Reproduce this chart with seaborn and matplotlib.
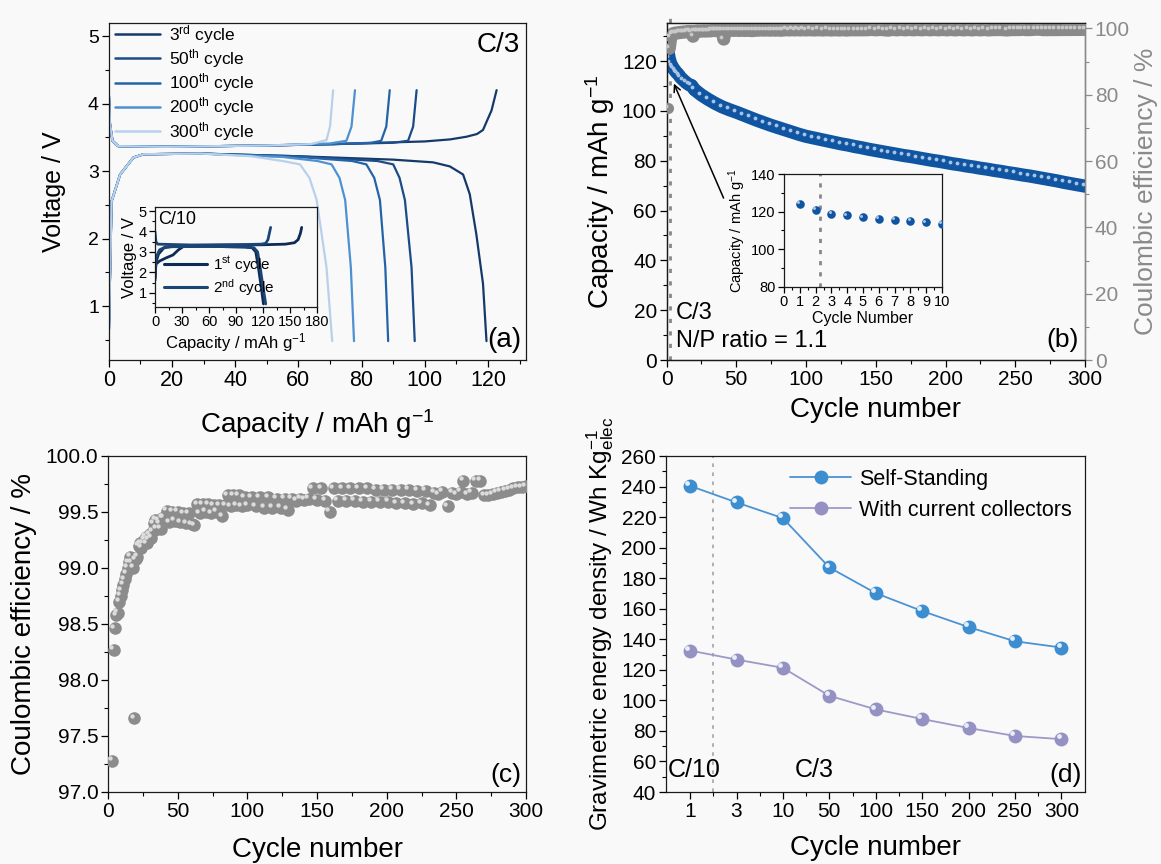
import numpy as np
import pandas as pd
import seaborn as sns
import matplotlib.pyplot as plt
from matplotlib.lines import Line2D
from matplotlib.ticker import MultipleLocator
from matplotlib.transforms import offset_copy

# -------- DATA --------#

# (a) C/3 voltage profiles, capacity in mAh/g and voltage in V
cycle_names = ['3rd', '50th', '100th', '200th', '300th']
cycle_labels = [r'3$^{\mathrm{rd}}$ cycle', r'50$^{\mathrm{th}}$ cycle', r'100$^{\mathrm{th}}$ cycle',
                r'200$^{\mathrm{th}}$ cycle', r'300$^{\mathrm{th}}$ cycle']
cycle_colors = ['#153a6a', '#1b4c86', '#2463a8', '#4d91d1', '#b9d0ec']

charge_q = {
    '3rd': [0, 0.4, 1.2, 3, 18, 50, 71, 100, 108, 113.2, 116.5, 118.4, 121.1, 122.7],
    '50th': [0, 0.4, 1.2, 3, 18, 50, 71, 90, 94.7, 96.3, 97.4],
    '100th': [0, 0.4, 1.2, 3, 18, 50, 71, 83, 86.2, 87.8, 88.9],
    '200th': [0, 0.4, 1.2, 3, 18, 50, 70, 75.2, 76.8, 77.9],
    '300th': [0, 0.4, 1.2, 3, 18, 50, 64, 68.9, 70.0, 71.0],
}
charge_v = {
    '3rd': [4.2, 3.7, 3.45, 3.37, 3.36, 3.38, 3.40, 3.44, 3.47, 3.51, 3.55, 3.61, 3.9, 4.2],
    '50th': [4.2, 3.7, 3.45, 3.37, 3.36, 3.38, 3.40, 3.42, 3.45, 3.66, 4.2],
    '100th': [4.2, 3.7, 3.45, 3.37, 3.36, 3.38, 3.40, 3.42, 3.45, 3.66, 4.2],
    '200th': [4.2, 3.7, 3.45, 3.37, 3.36, 3.38, 3.41, 3.45, 3.66, 4.2],
    '300th': [4.2, 3.7, 3.45, 3.37, 3.36, 3.38, 3.40, 3.46, 3.66, 4.2],
}
discharge_q = {
    '3rd': [0, 0.9, 3.6, 7.8, 11, 29, 60, 90, 102.6, 107.9, 112.1, 114.2, 116.3, 118.4, 119.5],
    '50th': [0, 0.9, 3.6, 7.8, 11, 29, 60, 85, 90, 92, 93.7, 95.8, 96.8],
    '100th': [0, 0.9, 3.6, 7.8, 11, 29, 60, 77, 81.5, 84, 85.8, 87.5, 88.4],
    '200th': [0, 0.9, 3.6, 7.8, 11, 29, 55, 66, 70.5, 73, 74.8, 76.6, 77.6],
    '300th': [0, 0.9, 3.6, 7.8, 11, 29, 45, 55, 60.5, 63.5, 65.8, 68.9, 70.7],
}
discharge_v = {
    '3rd': [0.5, 2.55, 2.95, 3.2, 3.25, 3.26, 3.22, 3.17, 3.13, 3.07, 2.95, 2.66, 2.06, 1.33, 0.48],
    '50th': [0.5, 2.55, 2.95, 3.2, 3.25, 3.26, 3.22, 3.15, 3.10, 2.9, 2.57, 1.57, 0.48],
    '100th': [0.5, 2.55, 2.95, 3.2, 3.25, 3.26, 3.21, 3.15, 3.10, 2.9, 2.57, 1.57, 0.48],
    '200th': [0.5, 2.55, 2.95, 3.2, 3.25, 3.26, 3.21, 3.15, 3.10, 2.9, 2.57, 1.57, 0.48],
    '300th': [0.5, 2.55, 2.95, 3.2, 3.25, 3.26, 3.22, 3.15, 3.10, 2.9, 2.57, 1.57, 0.48],
}

# (a) inset, C/10 formation cycles
form_labels = [r'1$^{\mathrm{st}}$ cycle', r'2$^{\mathrm{nd}}$ cycle']
form_colors = ['#0d2b55', '#1c4577']
form_charge_q = [[0, 1, 5, 12, 20, 26, 32, 60, 120, 145, 155, 159, 161.5, 163],
                 [0, 1, 3, 40, 100, 118, 123, 125.5, 127, 128.5]]
form_charge_v = [[1.7, 2.4, 2.55, 2.7, 2.85, 3.1, 3.28, 3.32, 3.35, 3.38, 3.45, 3.6, 3.9, 4.2],
                 [4.0, 3.5, 3.38, 3.34, 3.36, 3.38, 3.42, 3.6, 3.9, 4.2]]
form_dis_q = [[0, 1, 4, 10, 20, 60, 100, 108, 112, 115, 118, 120.5],
              [0, 1, 5, 12, 60, 100, 110, 114, 117, 120, 123]]
form_dis_v = [[1.6, 2.5, 2.9, 3.2, 3.27, 3.27, 3.24, 3.2, 3.0, 2.2, 1.3, 0.45],
              [2.0, 2.7, 3.1, 3.25, 3.27, 3.24, 3.2, 3.0, 2.2, 1.3, 0.45]]

# (b) discharge capacity per cycle (mAh/g)
cap_points = [(1, 124.0), (2, 121.0), (3, 119.0), (4, 118.0), (5, 117.0), (6, 116.3), (7, 115.5),
              (8, 115.0), (9, 114.3), (10, 113.5), (12, 112.4), (14, 111.4), (16, 110.6), (18, 110.2),
              (20, 108.6), (25, 106.4), (30, 104.6), (35, 103.0), (40, 101.6), (45, 100.5), (50, 99.5),
              (55, 98.4), (60, 97.3), (65, 96.2), (70, 95.2), (75, 94.2), (80, 93.3), (85, 92.4),
              (90, 91.5), (95, 90.6), (100, 89.8), (105, 89.2), (110, 88.6), (115, 88.0), (120, 87.4),
              (125, 86.8), (130, 86.3), (135, 85.7), (140, 85.2), (145, 84.6), (150, 84.1), (155, 83.6),
              (160, 83.1), (165, 82.6), (170, 82.1), (175, 81.7), (180, 81.2), (185, 80.7), (190, 80.2),
              (195, 79.8), (200, 79.3), (205, 78.8), (210, 78.4), (215, 77.9), (220, 77.5), (225, 77.0),
              (230, 76.6), (235, 76.1), (240, 75.7), (245, 75.2), (250, 74.8), (255, 74.3), (260, 73.9),
              (265, 73.4), (270, 72.9), (275, 72.4), (280, 71.9), (285, 71.3), (290, 70.8), (295, 70.3),
              (300, 69.8)]

# (b)/(c) coulombic efficiency per cycle (%)
ce_points = [(1, 76.0), (2, 94.0), (3, 97.28), (4, 98.27), (5, 98.46), (6, 98.58), (7, 98.60),
             (8, 98.70), (9, 98.75), (10, 98.80), (11, 98.85), (12, 98.90), (13, 98.95), (14, 99.00),
             (15, 99.05), (16, 99.10), (17, 99.05), (18, 99.00), (19, 97.66), (20, 99.08), (21, 99.10),
             (22, 99.20), (23, 99.22), (24, 99.18), (25, 99.22), (26, 99.25), (27, 99.28), (28, 99.22),
             (29, 99.25), (30, 99.30), (31, 99.27), (32, 99.33), (33, 99.40), (34, 99.43), (35, 99.35),
             (36, 99.42), (37, 99.40), (38, 99.35), (39, 99.45), (40, 99.45), (41, 96.8), (42, 99.51),
             (44, 99.41), (46, 99.50), (48, 99.42), (50, 99.50), (52, 99.41), (54, 99.49), (56, 99.40),
             (58, 99.49), (60, 99.39), (62, 99.38), (64, 99.57), (66, 99.49), (68, 99.57), (70, 99.50),
             (72, 99.57), (74, 99.49), (76, 99.56), (78, 99.50), (80, 99.56), (82, 99.46), (84, 99.56),
             (86, 99.65), (88, 99.55), (90, 99.65), (92, 99.56), (94, 99.65), (96, 99.55), (98, 99.63),
             (100, 99.56), (103, 99.63), (106, 99.55), (109, 99.63), (112, 99.54), (115, 99.63),
             (118, 99.54), (121, 99.62), (124, 99.54), (127, 99.62), (129, 99.52), (132, 99.62),
             (135, 99.60), (138, 99.62), (141, 99.61), (144, 99.62), (147, 99.71), (150, 99.61),
             (153, 99.71), (156, 99.60), (159, 99.50), (162, 99.71), (165, 99.60), (168, 99.71),
             (171, 99.60), (174, 99.71), (177, 99.60), (180, 99.71), (183, 99.59), (186, 99.71),
             (189, 99.59), (192, 99.70), (195, 99.59), (198, 99.70), (201, 99.59), (204, 99.70),
             (207, 99.58), (210, 99.70), (213, 99.58), (216, 99.70), (219, 99.57), (222, 99.69),
             (225, 99.58), (228, 99.69), (231, 99.56), (234, 99.67), (237, 99.66), (240, 99.68),
             (244, 99.55), (247, 99.67), (250, 99.66), (253, 99.68), (255, 99.78), (258, 99.66),
             (261, 99.67), (264, 99.78), (267, 99.78), (270, 99.65), (273, 99.65), (276, 99.66),
             (279, 99.67), (282, 99.68), (285, 99.69), (288, 99.70), (291, 99.71), (294, 99.72),
             (297, 99.72), (300, 99.73)]

rate_switch = 2.3  # C/10 -> C/3

# (d) gravimetric energy density (Wh/kg)
d_cycles = ['1', '3', '10', '50', '100', '150', '200', '250', '300']
self_standing = [240.4, 229.6, 219.3, 187.0, 170.2, 158.5, 148.0, 138.7, 134.6]
with_cc = [132.6, 126.7, 121.3, 103.0, 94.1, 87.8, 81.9, 76.7, 74.6]

cap_df = pd.DataFrame(cap_points, columns=['cycle', 'capacity'])
ce_df = pd.DataFrame(ce_points, columns=['cycle', 'ce'])
d_pos = np.arange(len(d_cycles))

# -------- STYLE --------#

sns.set_style('ticks')
plt.rcParams['font.family'] = ['Liberation Sans', 'DejaVu Sans']
plt.rcParams['mathtext.fontset'] = 'custom'
plt.rcParams['mathtext.rm'] = 'Liberation Sans'
plt.rcParams['mathtext.it'] = 'Liberation Sans:italic'
plt.rcParams['mathtext.default'] = 'regular'
plt.rcParams['axes.linewidth'] = 0.9
plt.rcParams['axes.edgecolor'] = '#1a1a1a'
plt.rcParams['text.color'] = 'black'
plt.rcParams['axes.labelcolor'] = 'black'
plt.rcParams['xtick.color'] = 'black'
plt.rcParams['ytick.color'] = 'black'

BG = '#f9f9f9'
W, H = 1161, 864
fig = plt.figure(figsize=(W / 100, H / 100), dpi=100, facecolor=BG)


def box(l, t, r, b):
    ax = fig.add_axes([l / W, 1 - b / H, (r - l) / W, (b - t) / H])
    ax.set_facecolor(BG)
    return ax


def ticks(ax, xs=15, ys=15, major=5, minor=3):
    ax.tick_params(which='major', length=major, width=0.9, direction='out', top=False, right=False)
    ax.tick_params(which='minor', length=minor, width=0.8, direction='out', top=False, right=False)
    ax.tick_params(axis='x', labelsize=xs, pad=2)
    ax.tick_params(axis='y', labelsize=ys, pad=2)


def spheres(ax, x, y, color, shine, s, z=3):
    sns.scatterplot(x=x, y=y, ax=ax, color=color, s=s, linewidth=0, zorder=z, legend=False)
    d = np.sqrt(s)
    glint = offset_copy(ax.transData, fig=fig, x=-0.2 * d, y=0.2 * d, units='points')
    sns.scatterplot(x=x, y=y, ax=ax, color=shine, s=s * 0.12, linewidth=0, zorder=z + 0.1,
                    legend=False, transform=glint)


# -------- (a) --------#
ax_a = box(108.7, 22.7, 526, 360)
handles = []
for name, color in zip(cycle_names, cycle_colors):
    sns.lineplot(x=charge_q[name], y=charge_v[name], ax=ax_a, sort=False, estimator=None,
                 color=color, lw=1.6)
    sns.lineplot(x=discharge_q[name], y=discharge_v[name], ax=ax_a, sort=False, estimator=None,
                 color=color, lw=1.6)
    handles.append(Line2D([], [], color=color, lw=1.8))
ax_a.set_xlim(0, 132)
ax_a.set_ylim(0.2, 5.2)
ax_a.xaxis.set_major_locator(MultipleLocator(20))
ax_a.xaxis.set_minor_locator(MultipleLocator(10))
ax_a.yaxis.set_major_locator(MultipleLocator(1))
ax_a.yaxis.set_minor_locator(MultipleLocator(0.5))
ticks(ax_a, xs=15.5, ys=14)
ax_a.set_xlabel(r'Capacity / mAh g$^{-1}$', fontsize=20, labelpad=12)
ax_a.set_ylabel('Voltage / V', fontsize=18, labelpad=16)
ax_a.legend(handles, cycle_labels, loc='upper left', bbox_to_anchor=(0.0, 1.018), frameon=False,
            fontsize=12.5, handlelength=2.6, labelspacing=0.08, borderaxespad=0.15,
            handletextpad=0.5, borderpad=0.2)
ax_a.text(0.985, 0.935, 'C/3', transform=ax_a.transAxes, ha='right', va='center', fontsize=20)
ax_a.text(0.99, 0.06, '(a)', transform=ax_a.transAxes, ha='right', va='center', fontsize=20)

ax_ai = box(155, 207, 317, 307)
form_handles = []
for i, color in enumerate(form_colors):
    sns.lineplot(x=form_charge_q[i], y=form_charge_v[i], ax=ax_ai, sort=False, estimator=None,
                 color=color, lw=2.0)
    sns.lineplot(x=form_dis_q[i], y=form_dis_v[i], ax=ax_ai, sort=False, estimator=None,
                 color=color, lw=2.0)
    form_handles.append(Line2D([], [], color=color, lw=2.2))
ax_ai.set_xlim(0, 180)
ax_ai.set_ylim(0.3, 5.2)
ax_ai.xaxis.set_major_locator(MultipleLocator(30))
ax_ai.xaxis.set_minor_locator(MultipleLocator(15))
ax_ai.yaxis.set_major_locator(MultipleLocator(1))
ax_ai.yaxis.set_minor_locator(MultipleLocator(0.5))
ticks(ax_ai, xs=10.5, ys=10.5, major=4, minor=2)
ax_ai.set_xlabel(r'Capacity / mAh g$^{-1}$', fontsize=12, labelpad=1)
ax_ai.set_ylabel('Voltage / V', fontsize=12, labelpad=1)
ax_ai.legend(form_handles, form_labels, loc='lower left', frameon=False, fontsize=11,
             handlelength=2.8, labelspacing=0.15, borderaxespad=0.2, handletextpad=0.4)
ax_ai.text(0.02, 0.87, 'C/10', transform=ax_ai.transAxes, ha='left', va='center', fontsize=13)

# -------- (b) --------#
ax_b = box(666.5, 22.5, 1085, 360)
sns.lineplot(data=cap_df, x='cycle', y='capacity', ax=ax_b, color='#0f55a2', lw=9.5,
             solid_capstyle='round', zorder=2)
spheres(ax_b, cap_df['cycle'], cap_df['capacity'], '#0f55a2', '#a9c3e0', 64)
ax_b.set_xlim(0, 300)
ax_b.set_ylim(0, 135.5)
ax_b.xaxis.set_major_locator(MultipleLocator(50))
ax_b.xaxis.set_minor_locator(MultipleLocator(25))
ax_b.yaxis.set_major_locator(MultipleLocator(20))
ax_b.yaxis.set_minor_locator(MultipleLocator(10))
ticks(ax_b, xs=15, ys=15)
ax_b.set_xlabel('Cycle number', fontsize=20, labelpad=6)
ax_b.set_ylabel(r'Capacity / mAh g$^{-1}$', fontsize=20, labelpad=3)
ax_b.plot([rate_switch, rate_switch], [0, 140.5], ls=(0, (1.5, 3)), color='#888888', lw=2,
          clip_on=False, zorder=1)
ax_b.annotate('', xy=(4.5, 112), xytext=(41.7, 64),
              arrowprops=dict(arrowstyle='->', color='black', lw=1.1, mutation_scale=12))
ax_b.text(0.023, 0.14, 'C/3', transform=ax_b.transAxes, ha='left', va='center', fontsize=17)
ax_b.text(0.023, 0.055, 'N/P ratio = 1.1', transform=ax_b.transAxes, ha='left', va='center',
          fontsize=17)
ax_b.text(0.985, 0.06, '(b)', transform=ax_b.transAxes, ha='right', va='center', fontsize=19)

ax_b2 = ax_b.twinx()
ce_run = ce_df[ce_df['cycle'] >= 2]
sns.lineplot(data=ce_run, x='cycle', y='ce', ax=ax_b2, color='#8a8a8a', lw=9.5,
             solid_capstyle='round', zorder=2)
spheres(ax_b2, ce_df['cycle'], ce_df['ce'], '#8a8a8a', '#c8c8c8', 64)
ax_b2.set_ylim(0, 101.8)
ax_b2.yaxis.set_major_locator(MultipleLocator(20))
ax_b2.yaxis.set_minor_locator(MultipleLocator(10))
ax_b2.tick_params(axis='y', which='major', length=5, width=0.9, colors='#8a8a8a', labelsize=15,
                  pad=2)
ax_b2.tick_params(axis='y', which='minor', length=3, width=0.8, colors='#8a8a8a')
ax_b2.spines['right'].set_color('#8a8a8a')
ax_b2.set_ylabel('Coulombic efficiency / %', fontsize=19, color='#8a8a8a', labelpad=3)

ax_bi = box(784, 174, 942, 287)
ax_bi.set_zorder(5)
first10 = cap_df[cap_df['cycle'] <= 10]
spheres(ax_bi, first10['cycle'], first10['capacity'], '#0f55a2', '#a9c3e0', 38)
ax_bi.axvline(rate_switch, ls=(0, (1.5, 2.5)), color='#888888', lw=2, zorder=1)
ax_bi.set_xlim(0, 10)
ax_bi.set_ylim(80, 140)
ax_bi.xaxis.set_major_locator(MultipleLocator(1))
ax_bi.xaxis.set_minor_locator(MultipleLocator(0.5))
ax_bi.yaxis.set_major_locator(MultipleLocator(20))
ax_bi.yaxis.set_minor_locator(MultipleLocator(10))
ticks(ax_bi, xs=10.5, ys=10.5, major=4, minor=2)
ax_bi.set_xlabel('Cycle Number', fontsize=11.5, labelpad=1)
ax_bi.set_ylabel(r'Capacity / mAh g$^{-1}$', fontsize=10.5, labelpad=2)

# -------- (c) --------#
ax_c = box(108, 456, 526, 792)
spheres(ax_c, ce_df['cycle'], ce_df['ce'], '#8c8c8c', '#dcdcdc', 82)
ax_c.set_xlim(0, 300)
ax_c.set_ylim(97, 100)
ax_c.xaxis.set_major_locator(MultipleLocator(50))
ax_c.xaxis.set_minor_locator(MultipleLocator(25))
ax_c.yaxis.set_major_locator(MultipleLocator(0.5))
ax_c.yaxis.set_minor_locator(MultipleLocator(0.25))
ax_c.yaxis.set_major_formatter('{x:.1f}')
ticks(ax_c, xs=15, ys=15)
ax_c.set_xlabel('Cycle number', fontsize=20, labelpad=12)
ax_c.set_ylabel('Coulombic efficiency / %', fontsize=20, labelpad=6)
ax_c.text(0.99, 0.05, '(c)', transform=ax_c.transAxes, ha='right', va='center', fontsize=19)

# -------- (d) --------#
ax_d = box(666, 456, 1085, 792)
series_d = [('Self-Standing', self_standing, '#3d8ed1', '#4a93d4'),
            ('With current collectors', with_cc, '#9591c2', '#9d99c8')]
d_handles = []
for name, vals, mcol, lcol in series_d:
    sns.lineplot(x=d_pos, y=vals, ax=ax_d, color=lcol, lw=1.3, sort=False, estimator=None)
    spheres(ax_d, d_pos, vals, mcol, '#e6eef8', 100)
    d_handles.append(Line2D([], [], color=lcol, lw=1.3, marker='o', markersize=10,
                            markerfacecolor=mcol, markeredgewidth=0))
ax_d.axvline(0.5, ls=(0, (2, 3)), color='#aaaaaa', lw=1.3, zorder=1)
ax_d.set_xlim(-0.52, 8.51)
ax_d.set_ylim(40, 260)
ax_d.set_xticks(d_pos, d_cycles)
ax_d.set_xticks(d_pos[:-1] + 0.5, minor=True)
ax_d.yaxis.set_major_locator(MultipleLocator(20))
ax_d.yaxis.set_minor_locator(MultipleLocator(10))
ticks(ax_d, xs=15, ys=15)
ax_d.set_xlabel('Cycle number', fontsize=20, labelpad=10)
ax_d.set_ylabel(r'Gravimetric energy density / Wh Kg$_{elec}^{-1}$', fontsize=17.5, labelpad=4)
ax_d.legend(d_handles, [s[0] for s in series_d], loc='upper right', frameon=False, fontsize=15.5,
            handlelength=2.8, labelspacing=0.45, borderaxespad=0.2, handletextpad=0.4)
ax_d.text(0.005, 0.066, 'C/10', transform=ax_d.transAxes, ha='left', va='center', fontsize=18)
ax_d.text(0.353, 0.066, 'C/3', transform=ax_d.transAxes, ha='center', va='center', fontsize=18)
ax_d.text(0.993, 0.05, '(d)', transform=ax_d.transAxes, ha='right', va='center', fontsize=19)

fig.savefig('out.png', dpi=100, facecolor=BG)
